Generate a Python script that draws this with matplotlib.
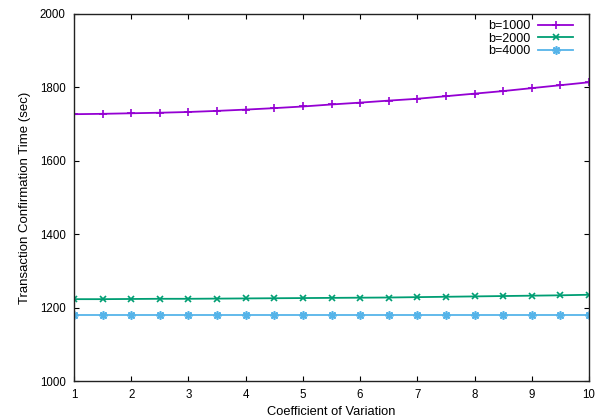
import matplotlib
matplotlib.use("Agg")
import matplotlib.pyplot as plt

plt.rcParams['font.family'] = ['Liberation Sans', 'DejaVu Sans']

cv = [1, 1.5, 2, 2.5, 3, 3.5, 4, 4.5, 5, 5.5, 6, 6.5, 7, 7.5, 8, 8.5, 9, 9.5, 10]
b1000 = [1727, 1728, 1729.5, 1731, 1733, 1736, 1739.5, 1743.5, 1748, 1753.5,
         1758.5, 1764, 1769, 1776, 1783, 1790, 1798, 1806, 1814]
b2000 = [1223, 1223, 1223.5, 1224, 1224, 1224.5, 1225, 1225.5, 1226, 1226.5,
         1227, 1227.5, 1228.5, 1229.5, 1230.5, 1231.5, 1232.5, 1233.5, 1235]
b4000 = [1180.5] * 19
labels = ["b=1000", "b=2000", "b=4000"]
colors = ["#9400D3", "#009E73", "#56B4E9"]
xticks = [1, 2, 3, 4, 5, 6, 7, 8, 9, 10]
yticks = [1000, 1200, 1400, 1600, 1800, 2000]

fig = plt.figure(figsize=(6.04, 4.19), dpi=100)
ax = fig.add_axes([74/604, 38/419, 515/604, 367/419])

star = (8, 2, 0)
ax.plot(cv, b1000, color=colors[0], marker='+', ms=6, mew=1.2, lw=1.3, label=labels[0])
ax.plot(cv, b2000, color=colors[1], marker='x', ms=5, mew=1.2, lw=1.3, label=labels[1])
ax.plot(cv, b4000, color=colors[2], marker=star, ms=6, mew=1.2, lw=1.3, label=labels[2])

ax.set_xlim(1, 10)
ax.set_ylim(1000, 2000)
ax.set_xticks(xticks)
ax.set_yticks(yticks)
ax.tick_params(direction='in', top=True, right=True, length=3.5, width=0.8,
               labelsize=8.3, pad=6, colors='black')
for s in ax.spines.values():
    s.set_linewidth(1.0)
    s.set_color('#222222')

ax.set_xlabel("Coefficient of Variation", fontsize=9.3, labelpad=3)
ax.set_ylabel("Transaction Confirmation Time (sec)", fontsize=9.5, labelpad=6)

leg = ax.legend(loc='upper right', frameon=False, markerfirst=False, fontsize=9,
                handlelength=2.8, handletextpad=0.6, labelspacing=0.05,
                borderaxespad=0, borderpad=0,
                bbox_to_anchor=(1 - 16/515, 1 - 6/367))
for t in leg.get_texts():
    t.set_ha('right')

fig.savefig("out.png", dpi=100)
